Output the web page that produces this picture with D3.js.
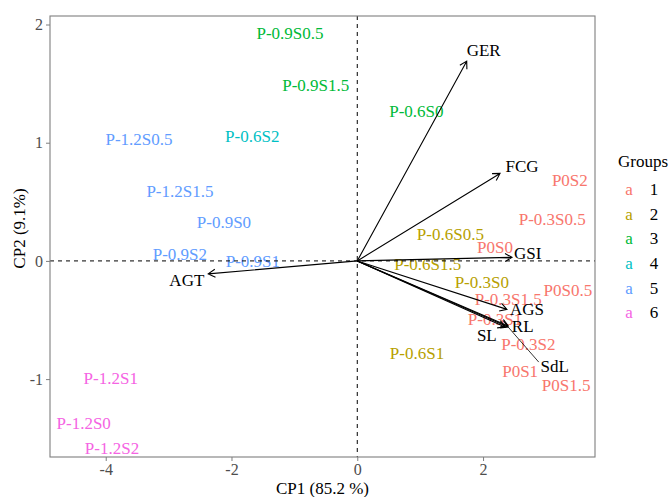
<!DOCTYPE HTML>
<html>
<head>
	<title>PCA biplot with d3.js</title>
	<meta http-equiv="Content-Type" content="text/html; charset=utf-8">
	<script src="https://cdn.jsdelivr.net/npm/d3@7"></script>
	<style type="text/css">
		body {
			margin: 0;
			background-color: #ffffff;
		}
		svg text {
			font-family: "Liberation Serif", "Times New Roman", serif !important;
		}
		.ind {
			font-size:   17px;
			text-anchor: middle;
		}
		.varLabel {
			font-size:   17px;
			fill:        #000000;
			text-anchor: middle;
		}
		.tick text {
			font-size: 16px;
			fill:      #4d4d4d;
		}
		.axisTitle {
			font-size:   17px;
			fill:        #000000;
			text-anchor: middle;
		}
	</style>
</head>

<body>
	<div id="picture"></div>
	<script>
// --- DATA --- //
var samples = ["P-0.9S0.5", "P-0.9S1.5", "P-0.6S0", "P-1.2S0.5", "P-0.6S2", "P-1.2S1.5",
               "P-0.9S0", "P-0.9S2", "P-0.9S1", "P-1.2S1", "P-1.2S0", "P-1.2S2",
               "P0S2", "P-0.3S0.5", "P-0.6S0.5", "P0S0", "P-0.6S1.5", "P-0.3S0",
               "P0S0.5", "P-0.3S1.5", "P-0.3S1", "P-0.3S2", "P-0.6S1", "P0S1", "P0S1.5"];
var sampleGroup = [3, 3, 3, 5, 4, 5,
                   5, 5, 5, 6, 6, 6,
                   1, 1, 2, 1, 2, 2,
                   1, 1, 1, 1, 2, 1, 1];
var cp1 = [-1.07, -0.66, 0.94, -3.47, -1.67, -2.82,
           -2.12, -2.82, -1.66, -3.92, -4.35, -3.90,
            3.38,  3.10, 1.48,  2.19,  1.12,  1.98,
            3.35,  2.40, 2.19,  2.72,  0.95,  2.59, 3.32];
var cp2 = [ 1.925, 1.485, 1.265, 1.03, 1.054, 0.59,
            0.327, 0.057, 0.00, -0.99, -1.37, -1.58,
            0.68,  0.35,  0.23,  0.116, -0.03, -0.18,
           -0.25, -0.32, -0.49, -0.70, -0.78, -0.93, -1.05];

var vars    = ["GER", "FCG", "GSI", "AGS", "RL", "SL", "SdL", "AGT"];
var varX    = [1.74, 2.27, 2.46, 2.38, 2.40, 2.35, 2.40, -2.37];
var varY    = [1.69, 0.74, 0.03, -0.41, -0.55, -0.56, -0.56, -0.11];
var varLabX = [2.01, 2.62, 2.71, 2.70, 2.63, 2.06, 3.14, -2.71];
var varLabY = [1.78, 0.80, 0.065, -0.41, -0.55, -0.63, -0.89, -0.16];

var groups      = [1, 2, 3, 4, 5, 6];
var groupColors = ["#F8766D", "#B79F00", "#00BA38", "#00BFC4", "#619CFF", "#F564E3"];

var xTicks = [-4, -2, 0, 2];
var yTicks = [-1, 0, 1, 2];

// --- LAYOUT --- //
var width  = 672;
var height = 497;
var margin = {left: 50, top: 16, right: 77, bottom: 40};
var pw = width - margin.left - margin.right;   // 545
var ph = height - margin.top - margin.bottom;  // 441
var serif = "'Liberation Serif', 'Times New Roman', serif";

var x = d3.scaleLinear().domain([-4.886, 3.78]).range([0, pw]);
var y = d3.scaleLinear().domain([-1.659, 2.072]).range([ph, 0]);
var color = d3.scaleOrdinal().domain(groups).range(groupColors);

var svg = d3.select("#picture")
	.append("svg")
		.attr("width",  width)
		.attr("height", height)
		.attr("font-family", serif);

var g = svg.append("g")
	.attr("transform", "translate(" + margin.left + "," + margin.top + ")");

// axes
var xAxis = g.append("g")
	.attr("transform", "translate(0," + ph + ")")
	.call(d3.axisBottom(x).tickValues(xTicks).tickSize(4).tickPadding(3).tickFormat(d3.format("d")));
var yAxis = g.append("g")
	.call(d3.axisLeft(y).tickValues(yTicks).tickSize(4).tickPadding(3).tickFormat(d3.format("d")));
[xAxis, yAxis].forEach(function(a) {
	a.attr("font-family", serif);
	a.select(".domain").remove();
	a.selectAll(".tick line").attr("stroke", "#7f7f7f");
	a.selectAll(".tick text").text(function(d) { return d < 0 ? "-" + Math.abs(d) : d; });
});

// individuals
g.selectAll(".ind")
	.data(samples)
	.enter().append("text")
		.attr("class", "ind")
		.attr("x", function(d, i) { return x(cp1[i]); })
		.attr("y", function(d, i) { return y(cp2[i]); })
		.attr("dy", "0.35em")
		.attr("fill", function(d, i) { return color(sampleGroup[i]); })
		.style("font-family", serif)
		.text(function(d) { return d; });

// reference lines
g.append("line")
	.attr("x1", 0).attr("x2", pw)
	.attr("y1", y(0)).attr("y2", y(0))
	.attr("stroke", "#000").attr("stroke-dasharray", "4,4");
g.append("line")
	.attr("x1", x(0)).attr("x2", x(0))
	.attr("y1", 0).attr("y2", ph)
	.attr("stroke", "#000").attr("stroke-dasharray", "4,4");

// variable arrows
for (var i = 0; i < vars.length; i++) {
	var x0 = x(0), y0 = y(0);
	var x1 = x(varX[i]), y1 = y(varY[i]);
	var a  = Math.atan2(y1 - y0, x1 - x0);
	var L  = 8, w = Math.PI / 6;
	var d  = "M" + x0 + "," + y0 + "L" + x1 + "," + y1 +
		"M" + (x1 - L * Math.cos(a - w)) + "," + (y1 - L * Math.sin(a - w)) +
		"L" + x1 + "," + y1 +
		"L" + (x1 - L * Math.cos(a + w)) + "," + (y1 - L * Math.sin(a + w));
	g.append("path")
		.attr("d", d)
		.attr("fill", "none")
		.attr("stroke", "#000")
		.attr("stroke-width", 1.1);
}

// repel segment for SdL label
var s = vars.indexOf("SdL");
g.append("line")
	.attr("x1", x(varX[s])).attr("y1", y(varY[s]))
	.attr("x2", x(varLabX[s]) - 16).attr("y2", y(varLabY[s]) - 4)
	.attr("stroke", "#000").attr("stroke-width", 0.8);

g.selectAll(".varLabel")
	.data(vars)
	.enter().append("text")
		.attr("class", "varLabel")
		.attr("x", function(d, i) { return x(varLabX[i]); })
		.attr("y", function(d, i) { return y(varLabY[i]); })
		.attr("dy", "0.35em")
		.text(function(d) { return d; });

// panel border
g.append("rect")
	.attr("width", pw).attr("height", ph)
	.attr("fill", "none")
	.attr("stroke", "#7f7f7f")
	.attr("stroke-width", 1.1);

// axis titles
svg.append("text")
	.attr("class", "axisTitle")
	.attr("x", margin.left + pw / 2)
	.attr("y", 494)
	.text("CP1 (85.2 %)");
svg.append("text")
	.attr("class", "axisTitle")
	.attr("transform", "translate(25," + (margin.top + ph / 2 - 8) + ") rotate(-90)")
	.text("CP2 (9.1%)");

// legend
var legend = svg.append("g").attr("transform", "translate(618,0)");
legend.append("text")
	.attr("x", 0).attr("y", 161)
	.attr("dy", "0.35em")
	.style("font-size", "17px")
	.text("Groups");
groups.forEach(function(gr, k) {
	var ly = 189 + k * 24.7;
	legend.append("text")
		.attr("x", 11).attr("y", ly).attr("dy", "0.35em")
		.attr("text-anchor", "middle")
		.attr("fill", color(gr))
		.style("font-size", "17px")
		.style("font-family", serif)
		.text("a");
	legend.append("text")
		.attr("x", 36).attr("y", ly).attr("dy", "0.35em")
		.attr("text-anchor", "middle")
		.style("font-size", "17px")
		.text(gr);
});
	</script>
</body>
</html>
